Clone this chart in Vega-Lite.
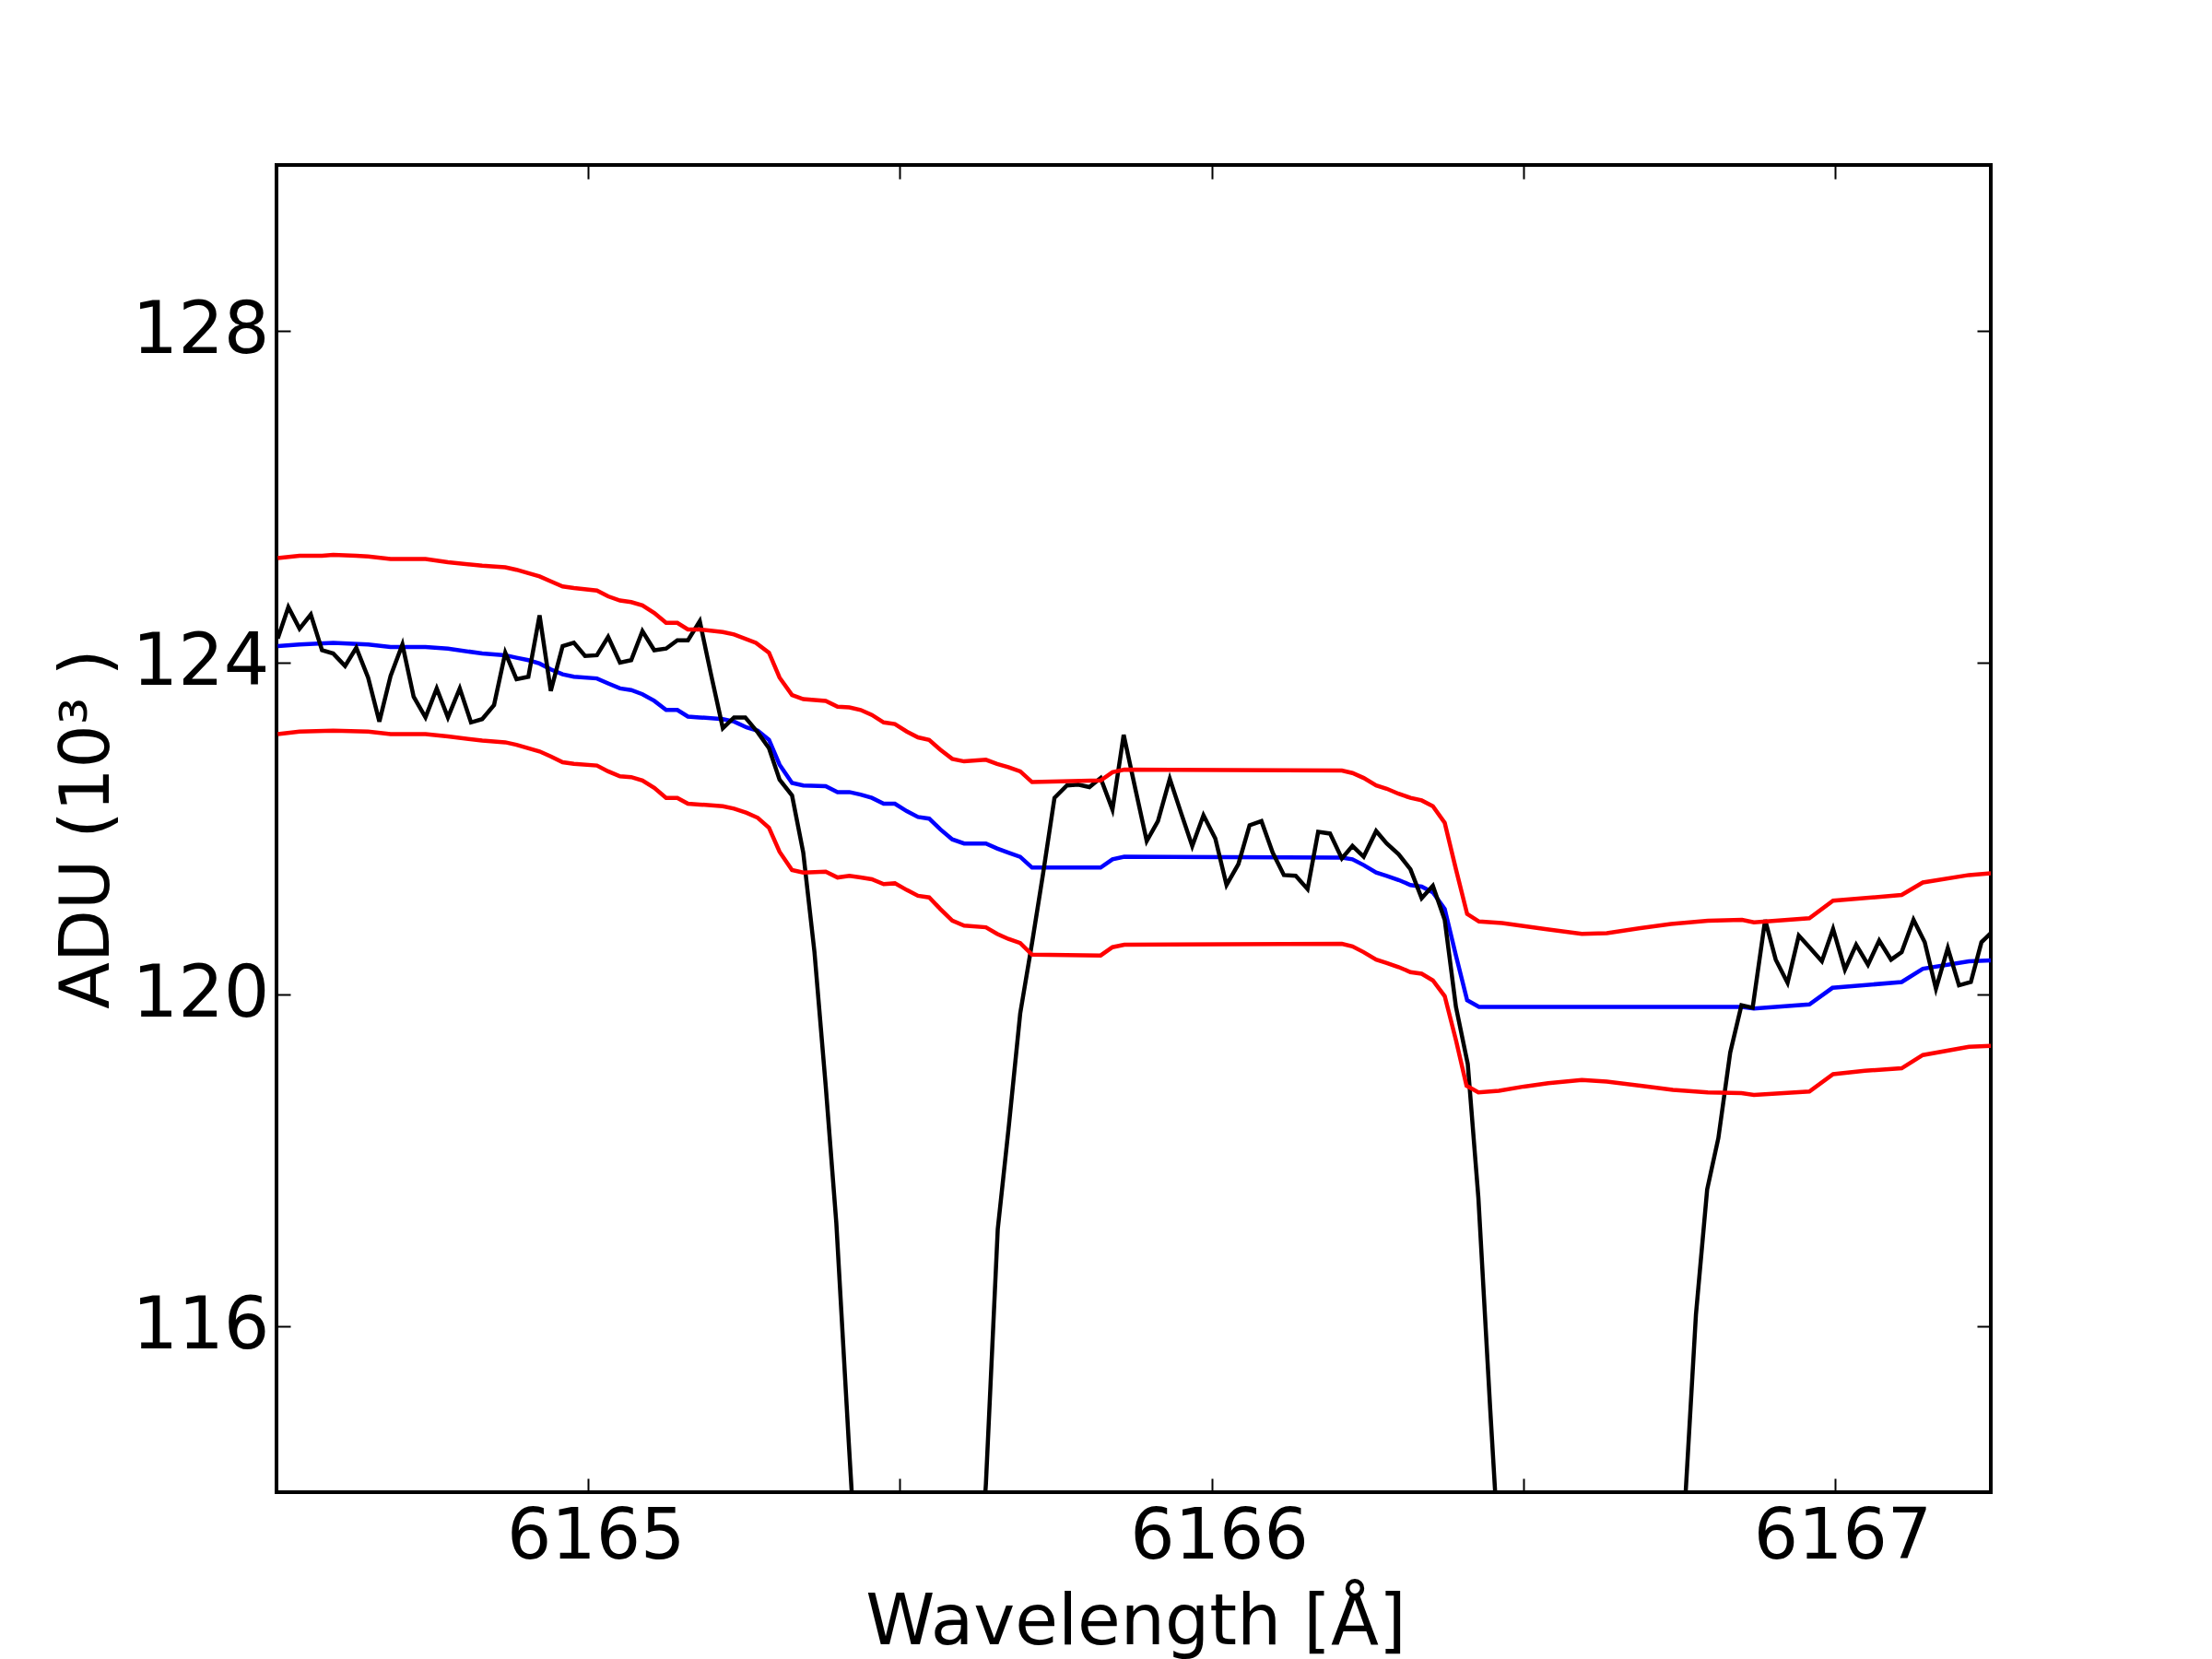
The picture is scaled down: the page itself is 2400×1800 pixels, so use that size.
{
  "$schema": "https://vega.github.io/schema/vega-lite/v6.json",
  "width": 1860,
  "height": 1440,
  "autosize": "none",
  "padding": {"left": 300, "top": 179, "right": 240, "bottom": 181},
  "background": "white",
  "config": {
    "view": {"stroke": "black", "strokeWidth": 4},
    "axis": {
      "grid": false,
      "domain": false,
      "tickColor": "black",
      "tickWidth": 2,
      "tickSize": -15,
      "labelFont": "DejaVu Sans",
      "labelFontSize": 78,
      "labelColor": "black",
      "labelLimit": 0,
      "titleFont": "DejaVu Sans",
      "titleFontSize": 76,
      "titleFontWeight": "normal",
      "titleColor": "black",
      "titleLimit": 0
    }
  },
  "data": {
    "values": [
      {"s": "obs", "x": 6164.502, "y": 124.29}, {"s": "obs", "x": 6164.519, "y": 124.67}, {"s": "obs", "x": 6164.537, "y": 124.41}, {"s": "obs", "x": 6164.555, "y": 124.58},
      {"s": "obs", "x": 6164.573, "y": 124.15}, {"s": "obs", "x": 6164.591, "y": 124.11}, {"s": "obs", "x": 6164.610, "y": 123.96}, {"s": "obs", "x": 6164.628, "y": 124.18},
      {"s": "obs", "x": 6164.647, "y": 123.82}, {"s": "obs", "x": 6164.665, "y": 123.29}, {"s": "obs", "x": 6164.683, "y": 123.84}, {"s": "obs", "x": 6164.702, "y": 124.22},
      {"s": "obs", "x": 6164.720, "y": 123.59}, {"s": "obs", "x": 6164.739, "y": 123.34}, {"s": "obs", "x": 6164.757, "y": 123.69}, {"s": "obs", "x": 6164.775, "y": 123.34},
      {"s": "obs", "x": 6164.794, "y": 123.69}, {"s": "obs", "x": 6164.812, "y": 123.28}, {"s": "obs", "x": 6164.830, "y": 123.32}, {"s": "obs", "x": 6164.849, "y": 123.49},
      {"s": "obs", "x": 6164.867, "y": 124.12}, {"s": "obs", "x": 6164.885, "y": 123.80}, {"s": "obs", "x": 6164.904, "y": 123.83}, {"s": "obs", "x": 6164.922, "y": 124.57},
      {"s": "obs", "x": 6164.940, "y": 123.66}, {"s": "obs", "x": 6164.959, "y": 124.20}, {"s": "obs", "x": 6164.977, "y": 124.24}, {"s": "obs", "x": 6164.995, "y": 124.08},
      {"s": "obs", "x": 6165.014, "y": 124.09}, {"s": "obs", "x": 6165.032, "y": 124.31}, {"s": "obs", "x": 6165.051, "y": 124.00}, {"s": "obs", "x": 6165.069, "y": 124.03},
      {"s": "obs", "x": 6165.087, "y": 124.38}, {"s": "obs", "x": 6165.106, "y": 124.15}, {"s": "obs", "x": 6165.125, "y": 124.17}, {"s": "obs", "x": 6165.143, "y": 124.27},
      {"s": "obs", "x": 6165.160, "y": 124.27}, {"s": "obs", "x": 6165.179, "y": 124.50}, {"s": "obs", "x": 6165.197, "y": 123.86}, {"s": "obs", "x": 6165.216, "y": 123.21},
      {"s": "obs", "x": 6165.234, "y": 123.34}, {"s": "obs", "x": 6165.252, "y": 123.34}, {"s": "obs", "x": 6165.272, "y": 123.16}, {"s": "obs", "x": 6165.290, "y": 122.97},
      {"s": "obs", "x": 6165.307, "y": 122.59}, {"s": "obs", "x": 6165.327, "y": 122.40}, {"s": "obs", "x": 6165.345, "y": 121.71}, {"s": "obs", "x": 6165.363, "y": 120.51},
      {"s": "obs", "x": 6165.381, "y": 118.9}, {"s": "obs", "x": 6165.398, "y": 117.25}, {"s": "obs", "x": 6165.418, "y": 114.6}, {"s": "obs", "x": 6165.437, "y": 112.2},
      {"s": "obs", "x": 6165.455, "y": 110.5}, {"s": "obs", "x": 6165.474, "y": 109.0}, {"s": "obs", "x": 6165.492, "y": 108.0}, {"s": "obs", "x": 6165.511, "y": 107.5},
      {"s": "obs", "x": 6165.529, "y": 107.5}, {"s": "obs", "x": 6165.547, "y": 108.0}, {"s": "obs", "x": 6165.565, "y": 109.0}, {"s": "obs", "x": 6165.584, "y": 110.3},
      {"s": "obs", "x": 6165.603, "y": 111.2}, {"s": "obs", "x": 6165.620, "y": 112.0}, {"s": "obs", "x": 6165.638, "y": 114.1}, {"s": "obs", "x": 6165.657, "y": 117.17},
      {"s": "obs", "x": 6165.675, "y": 118.43}, {"s": "obs", "x": 6165.693, "y": 119.77}, {"s": "obs", "x": 6165.712, "y": 120.62}, {"s": "obs", "x": 6165.730, "y": 121.47},
      {"s": "obs", "x": 6165.748, "y": 122.37}, {"s": "obs", "x": 6165.768, "y": 122.52}, {"s": "obs", "x": 6165.786, "y": 122.53}, {"s": "obs", "x": 6165.804, "y": 122.50},
      {"s": "obs", "x": 6165.822, "y": 122.61}, {"s": "obs", "x": 6165.841, "y": 122.23}, {"s": "obs", "x": 6165.859, "y": 123.13}, {"s": "obs", "x": 6165.878, "y": 122.47},
      {"s": "obs", "x": 6165.896, "y": 121.85}, {"s": "obs", "x": 6165.914, "y": 122.09}, {"s": "obs", "x": 6165.933, "y": 122.60}, {"s": "obs", "x": 6165.951, "y": 122.19},
      {"s": "obs", "x": 6165.969, "y": 121.79}, {"s": "obs", "x": 6165.987, "y": 122.16}, {"s": "obs", "x": 6166.006, "y": 121.88}, {"s": "obs", "x": 6166.024, "y": 121.32},
      {"s": "obs", "x": 6166.043, "y": 121.57}, {"s": "obs", "x": 6166.061, "y": 122.04}, {"s": "obs", "x": 6166.080, "y": 122.09}, {"s": "obs", "x": 6166.098, "y": 121.71},
      {"s": "obs", "x": 6166.116, "y": 121.44}, {"s": "obs", "x": 6166.135, "y": 121.43}, {"s": "obs", "x": 6166.154, "y": 121.27}, {"s": "obs", "x": 6166.171, "y": 121.96},
      {"s": "obs", "x": 6166.190, "y": 121.94}, {"s": "obs", "x": 6166.209, "y": 121.64}, {"s": "obs", "x": 6166.226, "y": 121.79}, {"s": "obs", "x": 6166.244, "y": 121.66},
      {"s": "obs", "x": 6166.264, "y": 121.97}, {"s": "obs", "x": 6166.281, "y": 121.82}, {"s": "obs", "x": 6166.300, "y": 121.69}, {"s": "obs", "x": 6166.319, "y": 121.51},
      {"s": "obs", "x": 6166.337, "y": 121.16}, {"s": "obs", "x": 6166.355, "y": 121.31}, {"s": "obs", "x": 6166.374, "y": 120.90}, {"s": "obs", "x": 6166.392, "y": 119.85},
      {"s": "obs", "x": 6166.411, "y": 119.16}, {"s": "obs", "x": 6166.428, "y": 117.55}, {"s": "obs", "x": 6166.447, "y": 115.0}, {"s": "obs", "x": 6166.466, "y": 112.6},
      {"s": "obs", "x": 6166.484, "y": 110.8}, {"s": "obs", "x": 6166.503, "y": 109.5}, {"s": "obs", "x": 6166.521, "y": 108.6}, {"s": "obs", "x": 6166.539, "y": 108.0},
      {"s": "obs", "x": 6166.557, "y": 107.8}, {"s": "obs", "x": 6166.576, "y": 107.8}, {"s": "obs", "x": 6166.594, "y": 108.0}, {"s": "obs", "x": 6166.612, "y": 108.4},
      {"s": "obs", "x": 6166.630, "y": 108.9}, {"s": "obs", "x": 6166.649, "y": 109.4}, {"s": "obs", "x": 6166.667, "y": 109.9}, {"s": "obs", "x": 6166.685, "y": 110.4},
      {"s": "obs", "x": 6166.703, "y": 110.8}, {"s": "obs", "x": 6166.722, "y": 111.2}, {"s": "obs", "x": 6166.740, "y": 111.6}, {"s": "obs", "x": 6166.759, "y": 113.8},
      {"s": "obs", "x": 6166.777, "y": 116.14}, {"s": "obs", "x": 6166.795, "y": 117.65}, {"s": "obs", "x": 6166.813, "y": 118.27}, {"s": "obs", "x": 6166.832, "y": 119.30},
      {"s": "obs", "x": 6166.850, "y": 119.87}, {"s": "obs", "x": 6166.868, "y": 119.84}, {"s": "obs", "x": 6166.888, "y": 120.90}, {"s": "obs", "x": 6166.905, "y": 120.42},
      {"s": "obs", "x": 6166.924, "y": 120.14}, {"s": "obs", "x": 6166.942, "y": 120.71}, {"s": "obs", "x": 6166.960, "y": 120.56}, {"s": "obs", "x": 6166.979, "y": 120.40},
      {"s": "obs", "x": 6166.997, "y": 120.79}, {"s": "obs", "x": 6167.016, "y": 120.30}, {"s": "obs", "x": 6167.034, "y": 120.60}, {"s": "obs", "x": 6167.053, "y": 120.36},
      {"s": "obs", "x": 6167.071, "y": 120.65}, {"s": "obs", "x": 6167.090, "y": 120.42}, {"s": "obs", "x": 6167.107, "y": 120.51}, {"s": "obs", "x": 6167.126, "y": 120.90},
      {"s": "obs", "x": 6167.144, "y": 120.63}, {"s": "obs", "x": 6167.162, "y": 120.07}, {"s": "obs", "x": 6167.181, "y": 120.56}, {"s": "obs", "x": 6167.199, "y": 120.11},
      {"s": "obs", "x": 6167.218, "y": 120.15}, {"s": "obs", "x": 6167.235, "y": 120.63}, {"s": "obs", "x": 6167.250, "y": 120.74},

      {"s": "model", "x": 6164.502, "y": 124.20}, {"s": "model", "x": 6164.537, "y": 124.22}, {"s": "model", "x": 6164.591, "y": 124.24}, {"s": "model", "x": 6164.647, "y": 124.22},
      {"s": "model", "x": 6164.683, "y": 124.19}, {"s": "model", "x": 6164.739, "y": 124.19}, {"s": "model", "x": 6164.775, "y": 124.17}, {"s": "model", "x": 6164.830, "y": 124.11},
      {"s": "model", "x": 6164.867, "y": 124.09}, {"s": "model", "x": 6164.885, "y": 124.06}, {"s": "model", "x": 6164.904, "y": 124.03}, {"s": "model", "x": 6164.922, "y": 123.99},
      {"s": "model", "x": 6164.940, "y": 123.92}, {"s": "model", "x": 6164.959, "y": 123.86}, {"s": "model", "x": 6164.977, "y": 123.83}, {"s": "model", "x": 6165.014, "y": 123.81},
      {"s": "model", "x": 6165.032, "y": 123.75}, {"s": "model", "x": 6165.051, "y": 123.69}, {"s": "model", "x": 6165.069, "y": 123.67}, {"s": "model", "x": 6165.087, "y": 123.62},
      {"s": "model", "x": 6165.106, "y": 123.54}, {"s": "model", "x": 6165.125, "y": 123.43}, {"s": "model", "x": 6165.143, "y": 123.43}, {"s": "model", "x": 6165.160, "y": 123.35},
      {"s": "model", "x": 6165.179, "y": 123.34}, {"s": "model", "x": 6165.216, "y": 123.32}, {"s": "model", "x": 6165.234, "y": 123.29}, {"s": "model", "x": 6165.254, "y": 123.22},
      {"s": "model", "x": 6165.272, "y": 123.18}, {"s": "model", "x": 6165.290, "y": 123.07}, {"s": "model", "x": 6165.307, "y": 122.77}, {"s": "model", "x": 6165.327, "y": 122.55},
      {"s": "model", "x": 6165.345, "y": 122.52}, {"s": "model", "x": 6165.381, "y": 122.51}, {"s": "model", "x": 6165.400, "y": 122.44}, {"s": "model", "x": 6165.419, "y": 122.44},
      {"s": "model", "x": 6165.437, "y": 122.41}, {"s": "model", "x": 6165.455, "y": 122.37}, {"s": "model", "x": 6165.474, "y": 122.30}, {"s": "model", "x": 6165.492, "y": 122.30},
      {"s": "model", "x": 6165.511, "y": 122.21}, {"s": "model", "x": 6165.529, "y": 122.14}, {"s": "model", "x": 6165.547, "y": 122.12}, {"s": "model", "x": 6165.565, "y": 121.99},
      {"s": "model", "x": 6165.584, "y": 121.87}, {"s": "model", "x": 6165.603, "y": 121.82}, {"s": "model", "x": 6165.638, "y": 121.82}, {"s": "model", "x": 6165.656, "y": 121.76},
      {"s": "model", "x": 6165.674, "y": 121.71}, {"s": "model", "x": 6165.693, "y": 121.66}, {"s": "model", "x": 6165.712, "y": 121.53}, {"s": "model", "x": 6165.822, "y": 121.53},
      {"s": "model", "x": 6165.841, "y": 121.63}, {"s": "model", "x": 6165.860, "y": 121.66}, {"s": "model", "x": 6166.209, "y": 121.65}, {"s": "model", "x": 6166.226, "y": 121.63},
      {"s": "model", "x": 6166.244, "y": 121.56}, {"s": "model", "x": 6166.264, "y": 121.47}, {"s": "model", "x": 6166.281, "y": 121.43}, {"s": "model", "x": 6166.300, "y": 121.38},
      {"s": "model", "x": 6166.319, "y": 121.32}, {"s": "model", "x": 6166.337, "y": 121.30}, {"s": "model", "x": 6166.355, "y": 121.23}, {"s": "model", "x": 6166.374, "y": 121.03},
      {"s": "model", "x": 6166.392, "y": 120.47}, {"s": "model", "x": 6166.410, "y": 119.93}, {"s": "model", "x": 6166.429, "y": 119.85}, {"s": "model", "x": 6166.851, "y": 119.85},
      {"s": "model", "x": 6166.870, "y": 119.83}, {"s": "model", "x": 6166.959, "y": 119.88}, {"s": "model", "x": 6166.996, "y": 120.08}, {"s": "model", "x": 6167.107, "y": 120.15},
      {"s": "model", "x": 6167.141, "y": 120.31}, {"s": "model", "x": 6167.215, "y": 120.40}, {"s": "model", "x": 6167.250, "y": 120.41},

      {"s": "hi", "x": 6164.502, "y": 125.26}, {"s": "hi", "x": 6164.537, "y": 125.29}, {"s": "hi", "x": 6164.573, "y": 125.29}, {"s": "hi", "x": 6164.591, "y": 125.30},
      {"s": "hi", "x": 6164.628, "y": 125.29}, {"s": "hi", "x": 6164.647, "y": 125.28}, {"s": "hi", "x": 6164.683, "y": 125.25}, {"s": "hi", "x": 6164.739, "y": 125.25},
      {"s": "hi", "x": 6164.775, "y": 125.21}, {"s": "hi", "x": 6164.830, "y": 125.17}, {"s": "hi", "x": 6164.867, "y": 125.15}, {"s": "hi", "x": 6164.885, "y": 125.12},
      {"s": "hi", "x": 6164.904, "y": 125.08}, {"s": "hi", "x": 6164.922, "y": 125.04}, {"s": "hi", "x": 6164.940, "y": 124.98}, {"s": "hi", "x": 6164.959, "y": 124.92},
      {"s": "hi", "x": 6164.977, "y": 124.90}, {"s": "hi", "x": 6165.014, "y": 124.87}, {"s": "hi", "x": 6165.032, "y": 124.80}, {"s": "hi", "x": 6165.051, "y": 124.75},
      {"s": "hi", "x": 6165.069, "y": 124.73}, {"s": "hi", "x": 6165.087, "y": 124.69}, {"s": "hi", "x": 6165.106, "y": 124.60}, {"s": "hi", "x": 6165.125, "y": 124.48},
      {"s": "hi", "x": 6165.143, "y": 124.48}, {"s": "hi", "x": 6165.160, "y": 124.40}, {"s": "hi", "x": 6165.179, "y": 124.40}, {"s": "hi", "x": 6165.216, "y": 124.37},
      {"s": "hi", "x": 6165.234, "y": 124.34}, {"s": "hi", "x": 6165.269, "y": 124.24}, {"s": "hi", "x": 6165.290, "y": 124.12}, {"s": "hi", "x": 6165.307, "y": 123.82},
      {"s": "hi", "x": 6165.327, "y": 123.61}, {"s": "hi", "x": 6165.345, "y": 123.56}, {"s": "hi", "x": 6165.381, "y": 123.54}, {"s": "hi", "x": 6165.400, "y": 123.47},
      {"s": "hi", "x": 6165.419, "y": 123.46}, {"s": "hi", "x": 6165.437, "y": 123.43}, {"s": "hi", "x": 6165.455, "y": 123.37}, {"s": "hi", "x": 6165.474, "y": 123.28},
      {"s": "hi", "x": 6165.492, "y": 123.26}, {"s": "hi", "x": 6165.511, "y": 123.17}, {"s": "hi", "x": 6165.529, "y": 123.10}, {"s": "hi", "x": 6165.547, "y": 123.07},
      {"s": "hi", "x": 6165.565, "y": 122.95}, {"s": "hi", "x": 6165.584, "y": 122.84}, {"s": "hi", "x": 6165.603, "y": 122.81}, {"s": "hi", "x": 6165.638, "y": 122.83},
      {"s": "hi", "x": 6165.656, "y": 122.78}, {"s": "hi", "x": 6165.674, "y": 122.74}, {"s": "hi", "x": 6165.693, "y": 122.69}, {"s": "hi", "x": 6165.712, "y": 122.56},
      {"s": "hi", "x": 6165.822, "y": 122.58}, {"s": "hi", "x": 6165.841, "y": 122.68}, {"s": "hi", "x": 6165.860, "y": 122.71}, {"s": "hi", "x": 6166.209, "y": 122.70},
      {"s": "hi", "x": 6166.226, "y": 122.67}, {"s": "hi", "x": 6166.244, "y": 122.61}, {"s": "hi", "x": 6166.264, "y": 122.52}, {"s": "hi", "x": 6166.281, "y": 122.48},
      {"s": "hi", "x": 6166.300, "y": 122.42}, {"s": "hi", "x": 6166.319, "y": 122.37}, {"s": "hi", "x": 6166.337, "y": 122.34}, {"s": "hi", "x": 6166.355, "y": 122.27},
      {"s": "hi", "x": 6166.374, "y": 122.07}, {"s": "hi", "x": 6166.392, "y": 121.51}, {"s": "hi", "x": 6166.410, "y": 120.97}, {"s": "hi", "x": 6166.429, "y": 120.88},
      {"s": "hi", "x": 6166.466, "y": 120.86}, {"s": "hi", "x": 6166.535, "y": 120.79}, {"s": "hi", "x": 6166.594, "y": 120.73}, {"s": "hi", "x": 6166.634, "y": 120.74},
      {"s": "hi", "x": 6166.688, "y": 120.80}, {"s": "hi", "x": 6166.737, "y": 120.85}, {"s": "hi", "x": 6166.796, "y": 120.89}, {"s": "hi", "x": 6166.851, "y": 120.90},
      {"s": "hi", "x": 6166.870, "y": 120.87}, {"s": "hi", "x": 6166.959, "y": 120.92}, {"s": "hi", "x": 6166.997, "y": 121.13}, {"s": "hi", "x": 6167.107, "y": 121.20},
      {"s": "hi", "x": 6167.141, "y": 121.35}, {"s": "hi", "x": 6167.215, "y": 121.44}, {"s": "hi", "x": 6167.250, "y": 121.46},

      {"s": "lo", "x": 6164.502, "y": 123.14}, {"s": "lo", "x": 6164.537, "y": 123.17}, {"s": "lo", "x": 6164.591, "y": 123.18}, {"s": "lo", "x": 6164.647, "y": 123.17},
      {"s": "lo", "x": 6164.683, "y": 123.14}, {"s": "lo", "x": 6164.739, "y": 123.14}, {"s": "lo", "x": 6164.775, "y": 123.11}, {"s": "lo", "x": 6164.830, "y": 123.06},
      {"s": "lo", "x": 6164.867, "y": 123.04}, {"s": "lo", "x": 6164.885, "y": 123.01}, {"s": "lo", "x": 6164.922, "y": 122.93}, {"s": "lo", "x": 6164.940, "y": 122.87},
      {"s": "lo", "x": 6164.959, "y": 122.80}, {"s": "lo", "x": 6164.977, "y": 122.78}, {"s": "lo", "x": 6165.014, "y": 122.76}, {"s": "lo", "x": 6165.032, "y": 122.69},
      {"s": "lo", "x": 6165.051, "y": 122.63}, {"s": "lo", "x": 6165.069, "y": 122.62}, {"s": "lo", "x": 6165.087, "y": 122.58}, {"s": "lo", "x": 6165.106, "y": 122.49},
      {"s": "lo", "x": 6165.125, "y": 122.37}, {"s": "lo", "x": 6165.143, "y": 122.37}, {"s": "lo", "x": 6165.160, "y": 122.30}, {"s": "lo", "x": 6165.179, "y": 122.29},
      {"s": "lo", "x": 6165.216, "y": 122.27}, {"s": "lo", "x": 6165.234, "y": 122.24}, {"s": "lo", "x": 6165.254, "y": 122.19}, {"s": "lo", "x": 6165.272, "y": 122.13},
      {"s": "lo", "x": 6165.290, "y": 122.01}, {"s": "lo", "x": 6165.307, "y": 121.72}, {"s": "lo", "x": 6165.327, "y": 121.50}, {"s": "lo", "x": 6165.345, "y": 121.47},
      {"s": "lo", "x": 6165.381, "y": 121.48}, {"s": "lo", "x": 6165.400, "y": 121.41}, {"s": "lo", "x": 6165.419, "y": 121.43}, {"s": "lo", "x": 6165.437, "y": 121.41},
      {"s": "lo", "x": 6165.455, "y": 121.39}, {"s": "lo", "x": 6165.474, "y": 121.33}, {"s": "lo", "x": 6165.492, "y": 121.34}, {"s": "lo", "x": 6165.511, "y": 121.26},
      {"s": "lo", "x": 6165.529, "y": 121.19}, {"s": "lo", "x": 6165.547, "y": 121.17}, {"s": "lo", "x": 6165.565, "y": 121.03}, {"s": "lo", "x": 6165.584, "y": 120.89},
      {"s": "lo", "x": 6165.603, "y": 120.83}, {"s": "lo", "x": 6165.638, "y": 120.81}, {"s": "lo", "x": 6165.656, "y": 120.73}, {"s": "lo", "x": 6165.674, "y": 120.67},
      {"s": "lo", "x": 6165.693, "y": 120.62}, {"s": "lo", "x": 6165.712, "y": 120.48}, {"s": "lo", "x": 6165.822, "y": 120.47}, {"s": "lo", "x": 6165.841, "y": 120.57},
      {"s": "lo", "x": 6165.860, "y": 120.60}, {"s": "lo", "x": 6166.209, "y": 120.61}, {"s": "lo", "x": 6166.226, "y": 120.58}, {"s": "lo", "x": 6166.244, "y": 120.51},
      {"s": "lo", "x": 6166.264, "y": 120.42}, {"s": "lo", "x": 6166.281, "y": 120.38}, {"s": "lo", "x": 6166.300, "y": 120.33}, {"s": "lo", "x": 6166.319, "y": 120.27},
      {"s": "lo", "x": 6166.337, "y": 120.25}, {"s": "lo", "x": 6166.355, "y": 120.17}, {"s": "lo", "x": 6166.374, "y": 119.98}, {"s": "lo", "x": 6166.392, "y": 119.45},
      {"s": "lo", "x": 6166.409, "y": 118.90}, {"s": "lo", "x": 6166.428, "y": 118.82}, {"s": "lo", "x": 6166.461, "y": 118.84}, {"s": "lo", "x": 6166.501, "y": 118.89},
      {"s": "lo", "x": 6166.540, "y": 118.93}, {"s": "lo", "x": 6166.594, "y": 118.97}, {"s": "lo", "x": 6166.634, "y": 118.95}, {"s": "lo", "x": 6166.688, "y": 118.90},
      {"s": "lo", "x": 6166.740, "y": 118.85}, {"s": "lo", "x": 6166.796, "y": 118.82}, {"s": "lo", "x": 6166.850, "y": 118.81}, {"s": "lo", "x": 6166.870, "y": 118.79},
      {"s": "lo", "x": 6166.959, "y": 118.83}, {"s": "lo", "x": 6166.997, "y": 119.04}, {"s": "lo", "x": 6167.048, "y": 119.08}, {"s": "lo", "x": 6167.107, "y": 119.11},
      {"s": "lo", "x": 6167.141, "y": 119.27}, {"s": "lo", "x": 6167.215, "y": 119.37}, {"s": "lo", "x": 6167.250, "y": 119.38}
    ]
  },
  "layer": [
    {
      "transform": [{"filter": "datum.s === 'model'"}],
      "mark": {"type": "line", "color": "#0000ff", "strokeWidth": 4.5, "clip": true},
      "encoding": {
        "x": {
          "field": "x", "type": "quantitative",
          "scale": {"domain": [6164.5, 6167.25], "nice": false, "zero": false},
          "axis": {
            "orient": "bottom",
            "values": [6165, 6165.5, 6166, 6166.5, 6167],
            "labelExpr": "datum.value % 1 === 0 ? format(datum.value, 'd') : ''",
            "labelFontSize": 76,
            "labelOffset": 8,
            "labelBaseline": "alphabetic",
            "labelPadding": 86,
            "title": "Wavelength [Å]",
            "titleBaseline": "alphabetic",
            "titleX": 932,
            "titleY": 164
          }
        },
        "y": {
          "field": "y", "type": "quantitative",
          "scale": {"domain": [114, 130], "nice": false, "zero": false},
          "axis": {
            "orient": "left",
            "values": [116, 120, 124, 128],
            "labelAlign": "right",
            "labelBaseline": "middle",
            "labelPadding": 23,
            "title": "ADU (10³ )",
            "titleFontSize": 74,
            "titleAngle": -90,
            "titleBaseline": "alphabetic",
            "titleAlign": "center",
            "titleX": -183,
            "titleY": 720
          }
        }
      }
    },
    {
      "transform": [{"filter": "datum.s === 'obs'"}],
      "mark": {"type": "line", "color": "#000000", "strokeWidth": 4.5, "clip": true},
      "encoding": {
        "x": {
          "field": "x", "type": "quantitative",
          "scale": {"domain": [6164.5, 6167.25], "nice": false, "zero": false},
          "axis": {"orient": "top", "values": [6165, 6165.5, 6166, 6166.5, 6167], "labels": false, "title": null}
        },
        "y": {
          "field": "y", "type": "quantitative",
          "scale": {"domain": [114, 130], "nice": false, "zero": false},
          "axis": {"orient": "right", "values": [116, 120, 124, 128], "labels": false, "title": null}
        }
      }
    },
    {
      "transform": [{"filter": "datum.s === 'hi' || datum.s === 'lo'"}],
      "mark": {"type": "line", "color": "#ff0000", "strokeWidth": 4.5, "clip": true},
      "encoding": {
        "x": {"field": "x", "type": "quantitative", "scale": {"domain": [6164.5, 6167.25], "nice": false, "zero": false}, "axis": null},
        "y": {"field": "y", "type": "quantitative", "scale": {"domain": [114, 130], "nice": false, "zero": false}, "axis": null},
        "detail": {"field": "s", "type": "nominal"}
      }
    }
  ],
  "resolve": {"axis": {"x": "independent", "y": "independent"}}
}
